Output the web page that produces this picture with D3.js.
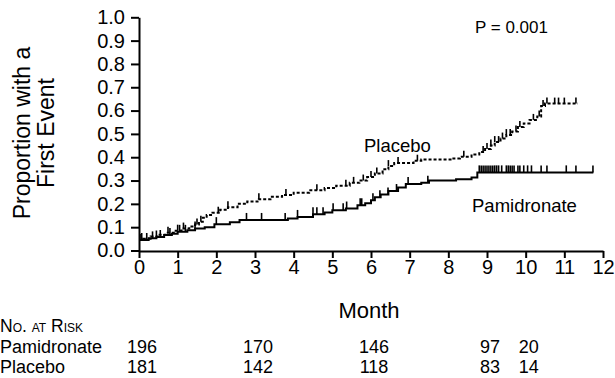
<!DOCTYPE html>
<html><head><meta charset="utf-8">
<script src="https://cdn.jsdelivr.net/npm/d3@7"></script>
<style>
body{margin:0;background:#fff;}
text{font-family:"Liberation Sans",Arial,Helvetica,sans-serif;fill:#000;}
</style></head>
<body><svg id="c" width="615" height="378"></svg>
<script>
// ---- data ----
const yTicks = [0,0.1,0.2,0.3,0.4,0.5,0.6,0.7,0.8,0.9,1.0];
const xTicks = [0,1,2,3,4,5,6,7,8,9,10,11,12];
// step functions: [month, cumulative proportion]
const pamSteps = [[0,0.045],[0.25,0.052],[0.45,0.058],[0.65,0.066],[0.85,0.072],[1.0,0.08],[1.25,0.087],[1.45,0.094],[1.7,0.10],[1.95,0.113],[2.35,0.121],[2.6,0.131],[3.85,0.137],[4.1,0.144],[4.5,0.155],[4.8,0.163],[5.0,0.173],[5.35,0.18],[5.65,0.194],[5.85,0.203],[6.0,0.215],[6.1,0.228],[6.25,0.24],[6.45,0.255],[6.7,0.27],[6.9,0.285],[7.3,0.29],[7.5,0.30],[8.2,0.305],[8.6,0.313],[8.75,0.335],[11.75,0.335]];
const pamCensor = [0.07,0.2,0.35,0.55,0.8,1.05,1.2,1.45,2.0,2.78,3.17,3.78,4.1,4.5,4.6,4.76,5.02,5.28,5.37,5.72,5.76,6.05,6.23,6.44,6.66,6.96,7.47,8.8,8.85,8.9,8.95,9.0,9.05,9.1,9.15,9.2,9.25,9.3,9.38,9.5,9.55,9.6,9.65,9.7,9.8,9.85,9.95,10.05,10.15,10.4,10.55,11.05,11.3,11.74];
const plaSteps = [[0,0.045],[0.1,0.05],[0.3,0.06],[0.5,0.068],[0.7,0.076],[0.9,0.085],[1.1,0.094],[1.3,0.103],[1.45,0.112],[1.55,0.123],[1.65,0.14],[1.75,0.152],[1.9,0.162],[2.1,0.175],[2.3,0.185],[2.55,0.2],[2.8,0.21],[3.1,0.22],[3.4,0.23],[3.7,0.238],[4.0,0.248],[4.4,0.258],[4.8,0.268],[5.1,0.278],[5.45,0.29],[5.7,0.30],[5.9,0.315],[6.1,0.33],[6.3,0.348],[6.45,0.362],[6.6,0.375],[7.1,0.385],[7.3,0.39],[8.1,0.395],[8.3,0.402],[8.6,0.412],[8.8,0.422],[8.95,0.435],[9.1,0.45],[9.2,0.465],[9.35,0.48],[9.5,0.495],[9.65,0.51],[9.8,0.53],[9.95,0.545],[10.1,0.56],[10.3,0.575],[10.4,0.62],[10.5,0.63],[11.35,0.63]];
const plaCensor = [0.05,0.45,0.75,1.0,1.15,1.5,1.6,2.05,2.3,3.1,3.8,4.6,5.35,5.55,5.8,6.0,6.15,6.45,6.7,7.2,8.4,8.9,9.0,9.1,9.2,9.3,9.4,9.5,9.6,9.75,9.85,10.2,10.35,10.45,10.55,10.75,10.85,11.0,11.3];
const riskMonths = [0,3,6,9,10];
const riskPam = [196,170,146,97,20];
const riskPla = [181,142,118,83,14];

// ---- layout ----
const svg = d3.select("#c");
const x = d3.scaleLinear().domain([0,12]).range([139,603]);
const y = d3.scaleLinear().domain([0,1]).range([250.5,17.3]);
const FONT = 20;

// axes
const gy = svg.append("g").attr("transform","translate(139,0)")
  .call(d3.axisLeft(y).tickValues(yTicks).tickFormat(d3.format(".1f")).tickSize(8).tickSizeOuter(0));
const gx = svg.append("g").attr("transform","translate(0,251)")
  .call(d3.axisBottom(x).tickValues(xTicks).tickFormat(d3.format("d")).tickSize(7).tickSizeOuter(0));
[gx,gy].forEach(g=>{
  g.select(".domain").attr("stroke","#000").attr("stroke-width",2);
  g.selectAll(".tick line").attr("stroke","#000").attr("stroke-width",2);
  g.selectAll("text").attr("font-size",FONT).attr("font-family","Liberation Sans, Arial, sans-serif").attr("fill","#000");
});
gy.selectAll("text").attr("x",-14);
gx.selectAll("text").attr("y",9);

// axis titles
const yt = svg.append("text").attr("transform","translate(30,133) rotate(-90)")
  .attr("text-anchor","middle").attr("font-size",23);
yt.append("tspan").attr("x",0).attr("dy",0).text("Proportion with a");
yt.append("tspan").attr("x",0).attr("dy",24).text("First Event");
svg.append("text").attr("x",369).attr("y",318).attr("text-anchor","middle").attr("font-size",22).text("Month");

// curves
const line = d3.line().x(d=>x(d[0])).y(d=>y(d[1])).curve(d3.curveStepAfter);
function valAt(steps,m){let v=steps[0][1];for(const s of steps){if(s[0]<=m)v=s[1];}return v;}

svg.append("path").datum(pamSteps).attr("d",line).attr("fill","none").attr("stroke","#000").attr("stroke-width",2);
svg.append("g").selectAll("line").data(pamCensor).join("line")
  .attr("x1",d=>x(d)).attr("x2",d=>x(d)).attr("y1",d=>y(valAt(pamSteps,d))).attr("y2",d=>y(valAt(pamSteps,d))-7)
  .attr("stroke","#000").attr("stroke-width",1.6);

svg.append("path").datum(plaSteps).attr("d",line).attr("fill","none").attr("stroke","#000").attr("stroke-width",2).attr("stroke-dasharray","3,2");
svg.append("g").selectAll("line").data(plaCensor).join("line")
  .attr("x1",d=>x(d)).attr("x2",d=>x(d)).attr("y1",d=>y(valAt(plaSteps,d))).attr("y2",d=>y(valAt(plaSteps,d))-6)
  .attr("stroke","#000").attr("stroke-width",1.6);

// labels
svg.append("text").attr("x",475).attr("y",33).attr("font-size",17).text("P = 0.001");
svg.append("text").attr("x",364).attr("y",152).attr("font-size",18.5).text("Placebo");
svg.append("text").attr("x",472).attr("y",212).attr("font-size",18.5).text("Pamidronate");

// risk table
svg.append("text").attr("x",0).attr("y",332).attr("font-size",17.5).attr("font-variant","small-caps").text("No. at Risk");
const rows = [["Pamidronate",riskPam,353],["Placebo",riskPla,373]];
rows.forEach(r=>{
  svg.append("text").attr("x",0).attr("y",r[2]).attr("font-size",18).text(r[0]);
  svg.append("g").selectAll("text").data(r[1]).join("text")
    .attr("x",(d,i)=>x(riskMonths[i])+3).attr("y",r[2]).attr("text-anchor","middle").attr("font-size",18).text(d=>d);
});
</script></body></html>
